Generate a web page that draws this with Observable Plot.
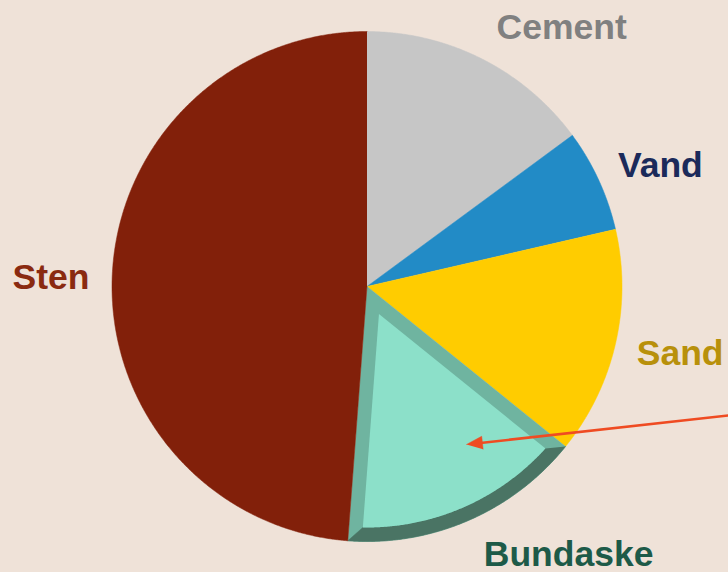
<!DOCTYPE html>
<html><head><meta charset="utf-8">
<script src="https://cdn.jsdelivr.net/npm/d3@7"></script>
<script src="https://cdn.jsdelivr.net/npm/@observablehq/plot@0.6"></script>
<style>
html,body{margin:0;padding:0;background:#efe2d8;}
g[aria-label="shadow"]{filter:blur(5px);}
</style></head><body><div id="chart"></div>
<script>
// ---- data ----
const categories = ["Cement", "Vand", "Sand", "Bundaske", "Sten"];
const shares = [14.9, 6.5, 14.4, 15.4, 48.8];
const sliceColors = ["#c6c6c6", "#228bc6", "#ffcc00", "#8ce0c9", "#82200a"];
const labelColors = ["#808080", "#1b2a5a", "#b8900b", "#1d5a48", "#8a2a10"];
const highlighted = "Bundaske";

// ---- layout ----
const W = 728, H = 572, cx = 366.5, cy = 286, R = 255;
const layout = {
  labelRadius: 1.24,
  labelShift: {Cement: [52, 23], Vand: [6, 11], Sand: [5, -4], Bundaske: [76, -22], Sten: [0, 3]},
  bevel: 14,
  arrowFrom: [728, 415],
  arrowTo: [466, 444]
};

const data = categories.map((c, i) => ({name: c, value: shares[i], color: sliceColors[i], labelColor: labelColors[i]}));
const arcs = d3.pie().sort(null).value(d => d.value)(data);

const pt = (a, r) => [r * Math.sin(a), r * Math.cos(a)];
function arcPts(a0, a1, r) {
  const n = Math.max(2, Math.ceil(Math.abs(a1 - a0) / 0.005));
  return d3.range(n + 1).map(i => pt(a0 + (a1 - a0) * i / n, r));
}
const px2u = ([px, py]) => [(px - cx) / R, (cy - py) / R];
const rows = pts => pts.map(([x, y]) => ({x, y}));

const marks = [];
// soft shadow
marks.push(Plot.line(rows(arcPts(0, 2 * Math.PI, 1.0)), {x: "x", y: "y", fill: "#4a3a30", fillOpacity: 0.45, stroke: "none", ariaLabel: "shadow"}));

for (const a of arcs) {
  const d = a.data;
  if (d.name === highlighted) {
    const b = layout.bevel / R;
    const da = Math.asin(b / (1 - b));
    const a0i = a.startAngle + da, a1i = a.endAngle - da;
    const mid = (a.startAngle + a.endAngle) / 2;
    const half = (a.endAngle - a.startAngle) / 2;
    const apex = pt(mid, b / Math.sin(half));
    marks.push(Plot.line(rows([[0, 0], ...arcPts(a.startAngle, a.endAngle, 1)]), {x: "x", y: "y", fill: "#6fb4a0", stroke: "#6fb4a0", strokeWidth: 0.5}));
    marks.push(Plot.line(rows([...arcPts(a.startAngle, a.endAngle, 1), ...arcPts(a1i, a0i, 1 - b)]), {x: "x", y: "y", fill: "#4a7464", stroke: "#4a7464", strokeWidth: 0.5}));
    marks.push(Plot.line(rows([apex, ...arcPts(a0i, a1i, 1 - b)]), {x: "x", y: "y", fill: d.color, stroke: "none"}));
  } else {
    marks.push(Plot.line(rows([[0, 0], ...arcPts(a.startAngle, a.endAngle, 1)]), {x: "x", y: "y", fill: d.color, stroke: d.color, strokeWidth: 0.5}));
  }
}

// arrow
{
  const [fx, fy] = layout.arrowFrom, [tx, ty] = layout.arrowTo;
  const L = Math.hypot(tx - fx, ty - fy);
  const ux = (tx - fx) / L, uy = (ty - fy) / L;
  const nx = -uy, ny = ux;
  const bx = tx - ux * 16, by = ty - uy * 16;
  const s = px2u([fx, fy]), e = px2u([bx + ux * 2, by + uy * 2]);
  marks.push(Plot.link([{x1: s[0], y1: s[1], x2: e[0], y2: e[1]}], {x1: "x1", y1: "y1", x2: "x2", y2: "y2", stroke: "#ef4b22", strokeWidth: 2.6}));
  marks.push(Plot.line(rows([px2u([tx, ty]), px2u([bx + nx * 6.5, by + ny * 6.5]), px2u([bx - nx * 6.5, by - ny * 6.5])]), {x: "x", y: "y", fill: "#ef4b22", stroke: "#ef4b22", strokeWidth: 0.5}));
}

// labels
const labelRows = arcs.map(a => {
  const mid = (a.startAngle + a.endAngle) / 2;
  const [x, y] = pt(mid, layout.labelRadius);
  const sh = layout.labelShift[a.data.name] || [0, 0];
  return {x: x + sh[0] / R, y: y - sh[1] / R, text: a.data.name, color: a.data.labelColor};
});
marks.push(Plot.text(labelRows, {x: "x", y: "y", text: "text", fill: "color", fontSize: 35.5, fontWeight: "bold", fontFamily: "'Liberation Sans', Arial, sans-serif", textAnchor: "middle"}));

const chart = Plot.plot({
  width: W, height: H, margin: 0,
  x: {domain: [-1, 1], range: [cx - R, cx + R], axis: null},
  y: {domain: [-1, 1], range: [cy + R, cy - R], axis: null},
  color: {type: "identity"},
  style: {background: "transparent", overflow: "visible"},
  marks
});
document.getElementById("chart").appendChild(chart);
</script></body></html>
